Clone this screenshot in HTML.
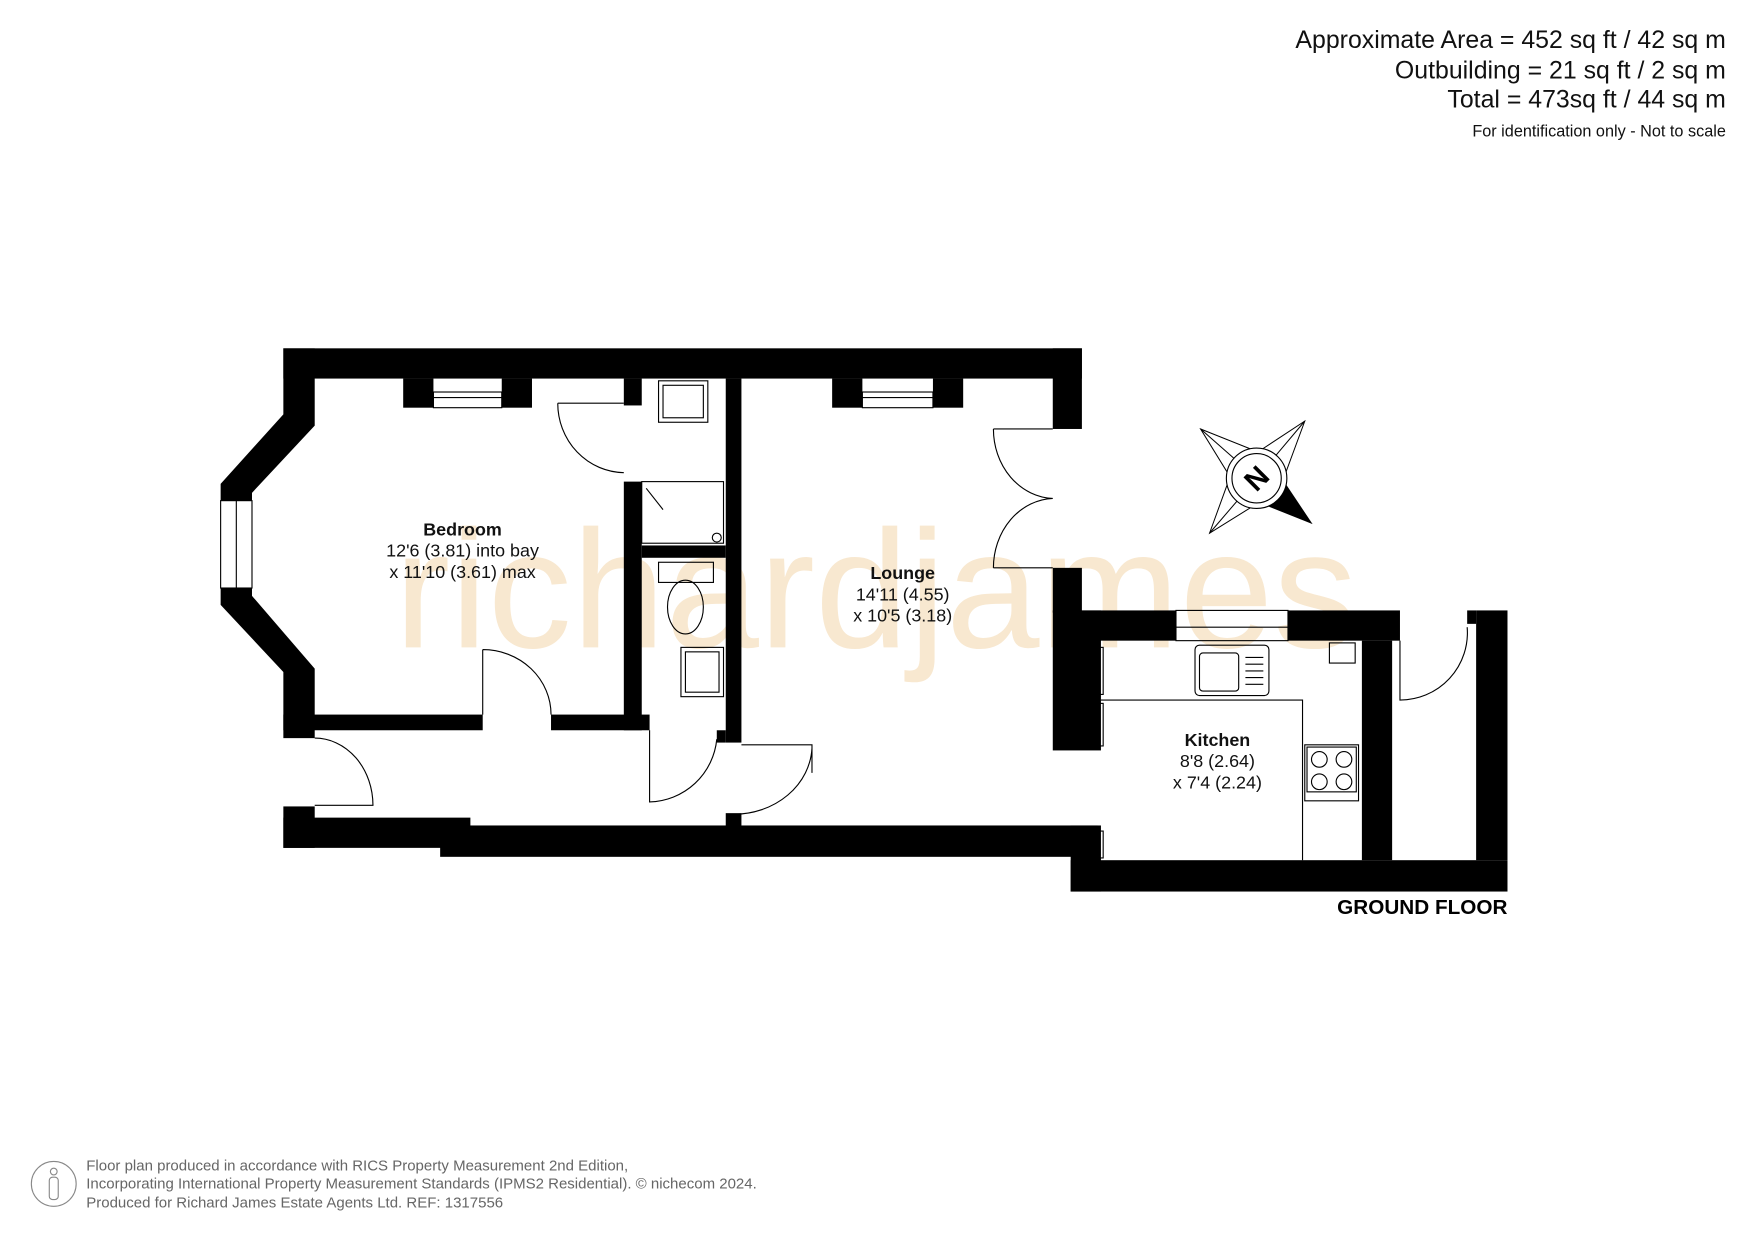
<!DOCTYPE html>
<html><head><meta charset="utf-8"><style>html,body{margin:0;padding:0;background:#fff}svg{display:block}</style></head>
<body>
<svg width="1755" height="1241" viewBox="0 0 1567 1108" preserveAspectRatio="none" xmlns="http://www.w3.org/2000/svg" font-family="Liberation Sans, Arial, sans-serif">
<rect width="1567" height="1108" fill="#fff"/>
<text x="352" y="578" font-size="150" fill="#f8e8d0" textLength="860" lengthAdjust="spacingAndGlyphs">richardjames</text>

<g fill="#000">
<rect x="253" y="311" width="713" height="27"/>
<rect x="940" y="311" width="26" height="72"/>
<polygon points="253,311 281,311 281,380 225,440 225,447 197,447 197,432 253,370"/>
<polygon points="197,525 225,525 225,532 281,597 281,659 253,659 253,600 197,540"/>
<rect x="360" y="338" width="27" height="26"/><rect x="448" y="338" width="27" height="26"/>
<rect x="743" y="338" width="27" height="26"/><rect x="833" y="338" width="27" height="26"/>
<rect x="253" y="638" width="178" height="14"/>
<rect x="492" y="638" width="88" height="14"/>
<rect x="557" y="338" width="16" height="24"/>
<rect x="557" y="430" width="16" height="222"/>
<rect x="573" y="487" width="75" height="11"/>
<rect x="648" y="338" width="14" height="325"/>
<rect x="640" y="652" width="8" height="11"/>
<rect x="253" y="720" width="28" height="37"/>
<rect x="253" y="730" width="167" height="27"/>
<rect x="393" y="737" width="587" height="28"/>
<rect x="648" y="726" width="14" height="12"/>
<rect x="940" y="507" width="26" height="40"/>
<rect x="940" y="545" width="43" height="125"/>
<rect x="966" y="545" width="84" height="27"/>
<rect x="1150" y="545" width="100" height="27"/>
<rect x="956" y="737" width="27" height="59"/>
<rect x="956" y="768" width="390" height="28"/>
<rect x="1216" y="572" width="27" height="196"/>
<rect x="1318" y="545" width="28" height="223"/>
<rect x="1310" y="545" width="8" height="12"/>
</g>

<g fill="none" stroke="#000" stroke-width="1">
<rect x="387" y="350" width="61" height="14"/><line x1="387" y1="355" x2="448" y2="355"/>
<rect x="770" y="350" width="63" height="14"/><line x1="770" y1="355" x2="833" y2="355"/>
<rect x="197" y="447" width="28" height="78"/><line x1="211" y1="447" x2="211" y2="525"/>
<rect x="1050" y="545" width="100" height="27"/><line x1="1050" y1="560" x2="1150" y2="560"/>
<rect x="980" y="578" width="5" height="42"/><rect x="980" y="628" width="5" height="38"/><rect x="980" y="742" width="5" height="24"/>
<path d="M498,360 L557,360 M498,360 A60,62 0 0 0 557,422"/>
<path d="M431,580 L431,638 M431,580 A61,58 0 0 1 492,638"/>
<path d="M281,659 A52,60 0 0 1 333,719 L281,719"/>
<path d="M580,652 L580,716 A62,62 0 0 0 640,660"/>
<path d="M662,665 L725,665 L725,690 M725,668 A70,62 0 0 1 655,727"/>
<path d="M887,383 L940,383 M887,383 A55,62 0 0 0 940,445 M887,507 L940,507 M887,507 A55,62 0 0 1 940,445"/>
<path d="M1250,572 L1250,625 A60,60 0 0 0 1310,560"/>
<rect x="588" y="340" width="44" height="37"/><rect x="592" y="344" width="36" height="29"/>
<rect x="573" y="430" width="73" height="55"/><line x1="577" y1="436" x2="592" y2="455"/><circle cx="640" cy="480" r="4"/>
<rect x="588" y="502" width="49" height="18"/><ellipse cx="612" cy="542" rx="16" ry="24"/>
<rect x="608" y="578" width="38" height="44"/><rect x="612" y="582" width="30" height="36"/>
<path d="M983,625 L1163,625 L1163,768"/>
<rect x="1067" y="576" width="66" height="45" rx="4"/><rect x="1071" y="583" width="35" height="34" rx="3"/>
<line x1="1112" y1="587" x2="1128" y2="587"/><line x1="1112" y1="593" x2="1128" y2="593"/><line x1="1112" y1="599" x2="1128" y2="599"/><line x1="1112" y1="605" x2="1128" y2="605"/><line x1="1112" y1="611" x2="1128" y2="611"/>
<rect x="1187" y="574" width="23" height="18"/>
<rect x="1165" y="665" width="48" height="50"/><rect x="1167" y="667" width="44" height="40"/>
<circle cx="1178" cy="678" r="7"/><circle cx="1200" cy="678" r="7"/><circle cx="1178" cy="698" r="7"/><circle cx="1200" cy="698" r="7"/>
<g stroke-width="0.9">
<polygon points="1072,383 1117,401 1122,427 1096,422"/>
<polygon points="1165,376 1148,422 1122,427 1127,401"/>
<polygon points="1080,476 1096,432 1122,427 1117,453"/>
<line x1="1072" y1="383" x2="1122" y2="427"/><line x1="1165" y1="376" x2="1122" y2="427"/><line x1="1080" y1="476" x2="1122" y2="427"/>
</g>
</g>
<polygon points="1172,468 1148,432 1132,452" fill="#000"/>
<circle cx="1122" cy="427" r="27" fill="#fff" stroke="#000"/>
<circle cx="1122" cy="427" r="22" fill="none" stroke="#000"/>
<text x="1122" y="436" font-size="26" font-weight="bold" text-anchor="middle" transform="rotate(-45 1122 427)">N</text>

<g text-anchor="middle" font-size="16" fill="#111">
<text x="413" y="478" font-weight="bold">Bedroom</text>
<text x="413" y="497">12'6 (3.81) into bay</text>
<text x="413" y="516">x 11'10 (3.61) max</text>
<text x="806" y="517" font-weight="bold">Lounge</text>
<text x="806" y="536">14'11 (4.55)</text>
<text x="806" y="555">x 10'5 (3.18)</text>
<text x="1087" y="666" font-weight="bold">Kitchen</text>
<text x="1087" y="685">8'8 (2.64)</text>
<text x="1087" y="704">x 7'4 (2.24)</text>
</g>
<text x="1346" y="816" font-size="18.5" font-weight="bold" text-anchor="end">GROUND FLOOR</text>

<g text-anchor="end" fill="#111">
<text x="1541" y="43" font-size="22.2">Approximate Area = 452 sq ft / 42 sq m</text>
<text x="1541" y="70" font-size="22.2">Outbuilding = 21 sq ft / 2 sq m</text>
<text x="1541" y="96" font-size="22.2">Total = 473sq ft / 44 sq m</text>
<text x="1541" y="122" font-size="14.5">For identification only - Not to scale</text>
</g>

<circle cx="48" cy="1057" r="20" fill="none" stroke="#888"/>
<circle cx="48" cy="1046" r="3" fill="none" stroke="#888"/>
<rect x="44" y="1051" width="8" height="20" rx="3" fill="none" stroke="#888"/>
<g font-size="13.4" fill="#666">
<text x="77" y="1045">Floor plan produced in accordance with RICS Property Measurement 2nd Edition,</text>
<text x="77" y="1061">Incorporating International Property Measurement Standards (IPMS2 Residential).   © nichecom 2024.</text>
<text x="77" y="1078">Produced for Richard James Estate Agents Ltd.   REF: 1317556</text>
</g>
</svg>
</body></html>
